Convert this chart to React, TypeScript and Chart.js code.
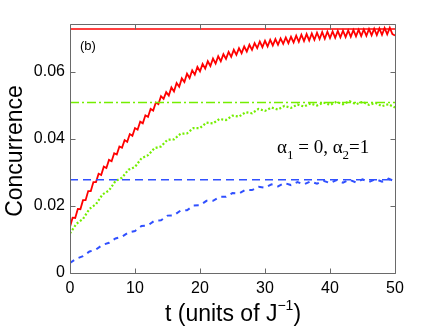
import { useEffect, useRef } from "react";
import { Chart, registerables } from "chart.js";

Chart.register(...registerables);

// sample times for the red curve (units of 1/J)
const redTimes = [
  0, 0.4, 0.8, 1.2, 1.6, 2, 2.4, 2.8, 3.2, 3.6, 4, 4.4, 4.8, 5.2, 5.6, 6, 6.4, 6.8, 7.2, 7.6,
  8, 8.4, 8.8, 9.2, 9.6, 10, 10.4, 10.8, 11.2, 11.6, 12, 12.4, 12.8, 13.2, 13.6, 14, 14.4, 14.8, 15.2, 15.6,
  16, 16.4, 16.8, 17.2, 17.6, 18, 18.4, 18.8, 19.2, 19.6, 20, 20.4, 20.8, 21.2, 21.6, 22, 22.4, 22.8, 23.2, 23.6,
  24, 24.4, 24.8, 25.2, 25.6, 26, 26.4, 26.8, 27.2, 27.6, 28, 28.4, 28.8, 29.2, 29.6, 30, 30.4, 30.8, 31.2, 31.6,
  32, 32.4, 32.8, 33.2, 33.6, 34, 34.4, 34.8, 35.2, 35.6, 36, 36.4, 36.8, 37.2, 37.6, 38, 38.4, 38.8, 39.2, 39.6,
  40, 40.4, 40.8, 41.2, 41.6, 42, 42.4, 42.8, 43.2, 43.6, 44, 44.4, 44.8, 45.2, 45.6, 46, 46.4, 46.8, 47.2, 47.6,
  48, 48.4, 48.8, 49.2, 49.6, 50,
];
const redValues = [
  0.0138, 0.0165, 0.0164, 0.0191, 0.0190, 0.0217, 0.0217, 0.0244, 0.0244, 0.0271, 0.0271, 0.0296, 0.0292, 0.0317, 0.0313, 0.0337, 0.0333, 0.0357, 0.0353, 0.0377,
  0.0373, 0.0396, 0.0391, 0.0414, 0.0409, 0.0432, 0.0427, 0.0451, 0.0446, 0.0470, 0.0465, 0.0489, 0.0484, 0.0508, 0.0503, 0.0527, 0.0519, 0.0539, 0.0529, 0.0553,
  0.0541, 0.0566, 0.0555, 0.0580, 0.0569, 0.0594, 0.0581, 0.0604, 0.0591, 0.0614, 0.0601, 0.0623, 0.0609, 0.0631, 0.0617, 0.0639, 0.0624, 0.0646, 0.0631, 0.0652,
  0.0638, 0.0659, 0.0644, 0.0665, 0.0650, 0.0670, 0.0655, 0.0675, 0.0660, 0.0680, 0.0665, 0.0685, 0.0670, 0.0690, 0.0673, 0.0692, 0.0675, 0.0695, 0.0678, 0.0697,
  0.0680, 0.0699, 0.0683, 0.0702, 0.0685, 0.0704, 0.0687, 0.0707, 0.0689, 0.0710, 0.0691, 0.0712, 0.0693, 0.0714, 0.0695, 0.0716, 0.0697, 0.0718, 0.0698, 0.0719,
  0.0700, 0.0720, 0.0701, 0.0721, 0.0702, 0.0722, 0.0703, 0.0723, 0.0704, 0.0724, 0.0705, 0.0725, 0.0706, 0.0726, 0.0707, 0.0727, 0.0708, 0.0728, 0.0709, 0.0729,
  0.0710, 0.0730, 0.0711, 0.0731, 0.0712, 0.0708,
];

// sample times for the green and blue curves
const gbTimes = [
  0, 1, 2, 3, 4, 5, 6, 7, 8, 9, 10, 11, 12, 13, 14, 15, 16, 17, 18, 19, 20, 21, 22, 23, 24, 25,
  26, 27, 28, 29, 30, 31, 32, 33, 34, 35, 36, 37, 38, 39, 40, 41, 42, 43, 44, 45, 46, 47, 48, 49, 50,
];
const greenValues = [
  0.0118, 0.0147, 0.0161, 0.0191, 0.0205, 0.0234, 0.0246, 0.0274, 0.0284, 0.0308, 0.0316, 0.0342, 0.0351, 0.0372, 0.0377, 0.0397, 0.0398,
  0.0415, 0.0416, 0.0432, 0.0432, 0.0448, 0.0446, 0.0459, 0.0456, 0.0469, 0.0466, 0.0479, 0.0476, 0.0489, 0.0483, 0.0493, 0.0487, 0.0498,
  0.0492, 0.0502, 0.0496, 0.0505, 0.0499, 0.0508, 0.0501, 0.0510, 0.0503, 0.0512, 0.0503, 0.0510, 0.0501, 0.0507, 0.0497, 0.0503, 0.0493,
];
const blueValues = [
  0.0030, 0.0043, 0.0050, 0.0064, 0.0070, 0.0084, 0.0090, 0.0103, 0.0108, 0.0121, 0.0125, 0.0140, 0.0142, 0.0156, 0.0157, 0.0171, 0.0172,
  0.0186, 0.0187, 0.0201, 0.0202, 0.0215, 0.0215, 0.0227, 0.0227, 0.0238, 0.0237, 0.0248, 0.0247, 0.0257, 0.0254, 0.0264, 0.0258, 0.0268,
  0.0262, 0.0271, 0.0264, 0.0273, 0.0266, 0.0275, 0.0268, 0.0277, 0.0269, 0.0278, 0.0270, 0.0279, 0.0271, 0.0280, 0.0272, 0.0281, 0.0273,
];

// asymptotic (steady-state) levels
const redLevel = 0.0727;
const greenLevel = 0.0508;
const blueLevel = 0.0278;

const xRange = [0, 50];
const yRange = [0, 0.0742];
const xTicks = [0, 10, 20, 30, 40, 50];
const yTicks = [0, 0.02, 0.04, 0.06];

const RED = "#ff0000";
const GREEN = "#74ee00";
const BLUE = "#3050ff";
const AXIS = "#6a6a6a";

const decorPlugin = {
  id: "decor",
  afterDraw(chart: any) {
    const { ctx, chartArea: a, scales } = chart;
    const xs = scales.x;
    const ys = scales.y;
    ctx.save();
    ctx.strokeStyle = AXIS;
    ctx.lineWidth = 1;
    ctx.beginPath();
    const L = Math.round(a.left) + 0.5;
    const R = Math.round(a.right) + 0.5;
    const T = Math.round(a.top) + 0.5;
    const B = Math.round(a.bottom) + 0.5;
    ctx.rect(L, T, R - L, B - T);
    const tl = 5;
    xTicks.forEach((v) => {
      const px = Math.round(xs.getPixelForValue(v)) + 0.5;
      ctx.moveTo(px, B);
      ctx.lineTo(px, B - tl);
      ctx.moveTo(px, T);
      ctx.lineTo(px, T + tl);
    });
    yTicks.forEach((v) => {
      const py = Math.round(ys.getPixelForValue(v)) + 0.5;
      ctx.moveTo(L, py);
      ctx.lineTo(L + tl, py);
      ctx.moveTo(R, py);
      ctx.lineTo(R - tl, py);
    });
    ctx.stroke();

    // panel label
    ctx.fillStyle = "#000";
    ctx.font = "13px 'Liberation Sans', Arial, sans-serif";
    ctx.textBaseline = "alphabetic";
    ctx.textAlign = "left";
    ctx.fillText("(b)", 80, 50);

    // parameter annotation
    const big = "19px 'Liberation Serif', 'Times New Roman', serif";
    const small = "13px 'Liberation Serif', 'Times New Roman', serif";
    let x = 277;
    const by = 153;
    const parts: [string, string, number][] = [
      ["α", big, 0],
      ["1", small, 6],
      [" = 0, α", big, 0],
      ["2", small, 6],
      ["=1", big, 0],
    ];
    parts.forEach(([s, f, dy]) => {
      ctx.font = f;
      ctx.fillText(s, x, by + dy);
      x += ctx.measureText(s).width;
    });

    // x axis title with superscript
    const tf = "23px 'Liberation Sans', Arial, sans-serif";
    const sf = "14px 'Liberation Sans', Arial, sans-serif";
    const s1 = "t (units of J";
    const s2 = "−1";
    const s3 = ")";
    ctx.font = tf;
    const w1 = ctx.measureText(s1).width;
    const w3 = ctx.measureText(s3).width;
    ctx.font = sf;
    const w2 = ctx.measureText(s2).width;
    const total = w1 + w2 + w3;
    let tx = 233 - total / 2;
    const ty = 321;
    ctx.font = tf;
    ctx.fillText(s1, tx, ty);
    tx += w1;
    ctx.font = sf;
    ctx.fillText(s2, tx, ty - 11);
    tx += w2;
    ctx.font = tf;
    ctx.fillText(s3, tx, ty);

    // y axis title
    ctx.save();
    ctx.translate(22, 151);
    ctx.rotate(-Math.PI / 2);
    ctx.font = tf;
    ctx.textAlign = "center";
    ctx.fillText("Concurrence", 0, 0);
    ctx.restore();

    ctx.restore();
  },
};

export default function App() {
  const ref = useRef<HTMLCanvasElement | null>(null);

  useEffect(() => {
    document.body.style.margin = "0";
    const canvas = ref.current;
    if (!canvas) return;
    const pts = (ts: number[], vs: number[]) => ts.map((t, i) => ({ x: t, y: vs[i] }));
    const level = (v: number) => [
      { x: xRange[0], y: v },
      { x: xRange[1], y: v },
    ];
    const chart = new Chart(canvas, {
      type: "line",
      data: {
        datasets: [
          {
            data: level(redLevel),
            borderColor: RED,
            borderWidth: 1.5,
            pointRadius: 0,
          },
          {
            data: level(greenLevel),
            borderColor: GREEN,
            borderWidth: 1.5,
            borderDash: [9, 3, 2, 3],
            pointRadius: 0,
          },
          {
            data: level(blueLevel),
            borderColor: BLUE,
            borderWidth: 1.5,
            borderDash: [8, 5],
            pointRadius: 0,
          },
          {
            data: pts(gbTimes, blueValues),
            borderColor: BLUE,
            borderWidth: 2,
            borderDash: [5, 5],
            pointRadius: 0,
          },
          {
            data: pts(gbTimes, greenValues),
            borderColor: GREEN,
            borderWidth: 2.2,
            borderDash: [2, 2],
            pointRadius: 0,
          },
          {
            data: pts(redTimes, redValues),
            borderColor: RED,
            borderWidth: 1.8,
            pointRadius: 0,
          },
        ],
      },
      options: {
        animation: false,
        responsive: false,
        maintainAspectRatio: false,
        layout: { padding: { left: 0, right: 41, top: 24, bottom: 0 } },
        plugins: {
          legend: { display: false },
          tooltip: { enabled: false },
        },
        scales: {
          x: {
            type: "linear",
            min: xRange[0],
            max: xRange[1],
            grid: { display: false, drawTicks: false },
            border: { display: false },
            afterBuildTicks: (s: any) => {
              s.ticks = xTicks.map((v) => ({ value: v }));
            },
            afterFit: (s: any) => {
              s.height = 55;
            },
            ticks: {
              padding: 6,
              color: "#000",
              font: { family: "'Liberation Sans', Arial, sans-serif", size: 16 },
              callback: (v: any) => String(v),
            },
          },
          y: {
            type: "linear",
            min: yRange[0],
            max: yRange[1],
            grid: { display: false, drawTicks: false },
            border: { display: false },
            afterBuildTicks: (s: any) => {
              s.ticks = yTicks.map((v) => ({ value: v }));
            },
            afterFit: (s: any) => {
              s.width = 70;
            },
            ticks: {
              padding: 5,
              color: "#000",
              font: { family: "'Liberation Sans', Arial, sans-serif", size: 16 },
              callback: (v: any) => (v === 0 ? "0" : Number(v).toFixed(2)),
            },
          },
        },
      },
      plugins: [decorPlugin],
    });
    return () => chart.destroy();
  }, []);

  return (
    <div style={{ width: 436, height: 328 }}>
      <canvas ref={ref} width={436} height={328} style={{ width: 436, height: 328, display: "block" }} />
    </div>
  );
}
